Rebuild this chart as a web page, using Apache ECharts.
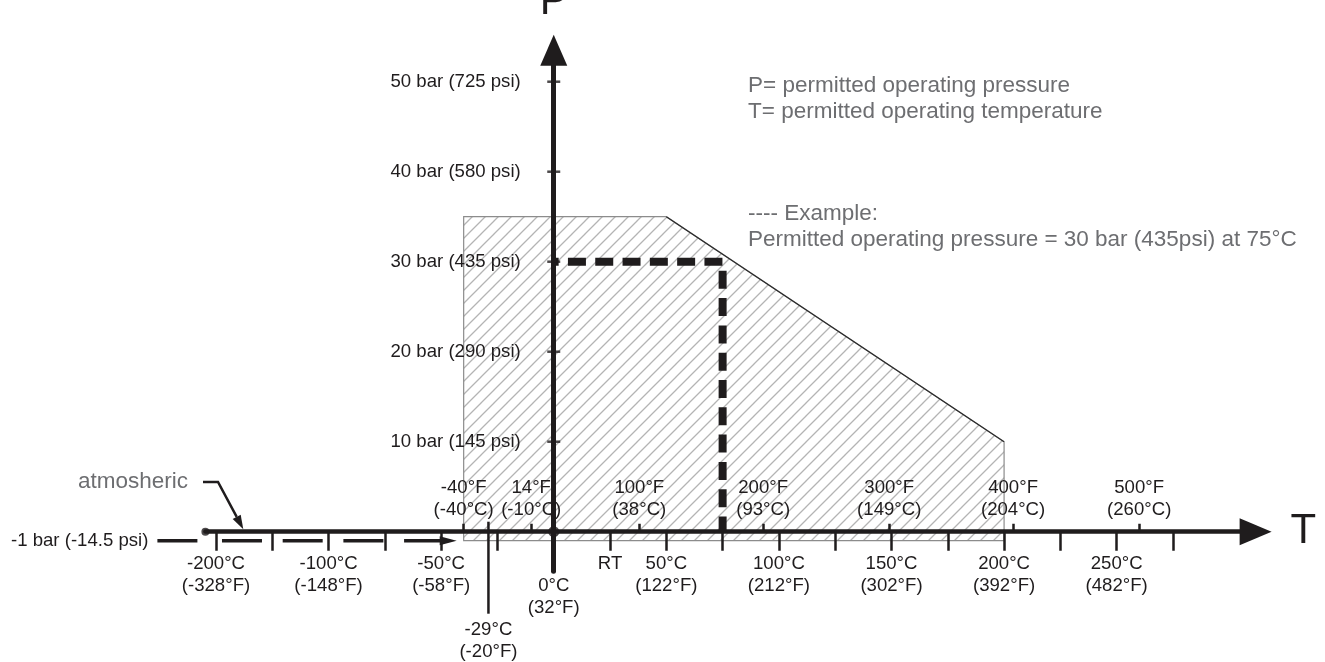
<!DOCTYPE html>
<html><head><meta charset="utf-8">
<script src="https://cdn.jsdelivr.net/npm/echarts@6/dist/echarts.min.js"></script>
<style>html,body{margin:0;padding:0;background:#fff}#c{width:1325px;height:662px}</style>
</head><body><div id="c"></div>
<script>
// ---------------- data ----------------
// permitted operating envelope (temperature °C, pressure bar)
const envelopeT = [-40, -40, 50, 200, 200];
const envelopeP = [-1, 35, 35, 10, -1];
// example: 30 bar at 75 °C
const exampleT = [0, 75, 75];
const exampleP = [30, 30, 0];
// pressure axis
const pressureTicks = [10, 20, 30, 40, 50];
const pressureLabels = ['10 bar (145 psi)', '20 bar (290 psi)', '30 bar (435 psi)', '40 bar (580 psi)', '50 bar (725 psi)'];
const vacuumP = -1;
const vacuumLabel = '-1 bar (-14.5 psi)';
// temperature axis (positions on the drawn scale; left part of the axis is compressed)
const celsiusTickPositions = [-150, -125, -100, -75, -50, -25, 25, 50, 75, 100, 125, 150, 175, 200, 225, 250, 275];
const celsiusLabelPositions = [-150, -100, -50, -29, 0, 25, 50, 100, 150, 200, 250];
const celsiusLabels = ['-200°C\n(-328°F)', '-100°C\n(-148°F)', '-50°C\n(-58°F)', '\n\n\n-29°C\n(-20°F)', '\n0°C\n(32°F)', 'RT', '50°C\n(122°F)', '100°C\n(212°F)', '150°C\n(302°F)', '200°C\n(392°F)', '250°C\n(482°F)'];
const fahrenheitTickPositions = [-40, -10, 38, 93, 149, 204, 260];
const fahrenheitLabels = ['-40°F\n(-40°C)', '14°F\n(-10°C)', '100°F\n(38°C)', '200°F\n(93°C)', '300°F\n(149°C)', '400°F\n(204°C)', '500°F\n(260°C)'];
const minTempMark = -29;
// axis extents
const xMin = -154.7, xMax = 311.7;
const yMin = -4.4, yMax = 53.5;

// ---------------- layout / styling ----------------
const W = 1325, H = 662;
const GL = 205.4, GR = 69.4, GT = 50.2, GB = 90.7;
const pxPerBar = (H - GT - GB) / (yMax - yMin);
const zeroY = H - GB - (0 - yMin) * pxPerBar;               // pixel row of 0 bar
const pxPerDeg = (W - GL - GR) / (xMax - xMin);
const zeroX = GL + (0 - xMin) * pxPerDeg;                    // pixel column of 0 °C

const INK = '#1f1c1d';
const GRAY = '#6d6e71';
const FONT = '"Liberation Sans", Arial, Helvetica, sans-serif';
const FS = 18.6;

function makeHatch() {
  const s = 13;
  const c = document.createElement('canvas');
  c.width = s; c.height = s;
  const g = c.getContext('2d');
  g.strokeStyle = '#b4b4b4';
  g.lineWidth = 1.3;
  g.beginPath();
  for (const k of [0, s, 2 * s]) { g.moveTo(-2, k + 2); g.lineTo(k + 2, -2); }
  g.stroke();
  return c;
}
const hatch = makeHatch();

const chart = echarts.init(document.getElementById('c'), null, { renderer: 'canvas' });

const axisText = { color: INK, fontSize: FS, fontFamily: FONT, lineHeight: 22 };
const hiddenAxis = (gi, min, max) => ({ type: 'value', gridIndex: gi, show: false, min: min, max: max });

const option = {
  animation: false,
  backgroundColor: '#fff',
  grid: [
    // 0: data grid
    { left: GL, right: GR, top: GT, bottom: GB, containLabel: false, outerBoundsMode: 'none' },
    // 1: temperature (°C) axis, bottom edge on 0 bar
    { left: GL, right: GR, top: GT, bottom: H - zeroY, containLabel: false, outerBoundsMode: 'none' },
    // 2: temperature (°F) axis, top edge on 0 bar
    { left: GL, right: GR, top: zeroY, bottom: GB, containLabel: false, outerBoundsMode: 'none' },
    // 3: pressure axis, left edge on 0 °C
    { left: zeroX, right: GR, top: GT, bottom: GB, containLabel: false, outerBoundsMode: 'none' }
  ],
  xAxis: [
    hiddenAxis(0, xMin, xMax),
    {
      type: 'value', gridIndex: 1, min: xMin, max: xMax, position: 'bottom', z: 5,
      axisLine: { show: true, onZero: false, lineStyle: { color: INK, width: 4.5 }, symbol: ['none', 'triangle'], symbolSize: [27, 32] },
      axisTick: { show: true, customValues: celsiusTickPositions, length: 19, lineStyle: { color: INK, width: 2.5 } },
      axisLabel: Object.assign({ customValues: celsiusLabelPositions, margin: 21, formatter: v => celsiusLabels[celsiusLabelPositions.indexOf(v)] || '' }, axisText),
      splitLine: { show: false },
      name: 'T', nameLocation: 'end', nameGap: 35, nameMoveOverlap: false,
      nameTextStyle: { fontSize: 42, color: INK, fontFamily: FONT, align: 'left', verticalAlign: 'middle' }
    },
    {
      type: 'value', gridIndex: 2, min: xMin, max: xMax, position: 'top', z: 5,
      axisLine: { show: false, onZero: false },
      axisTick: { show: true, customValues: fahrenheitTickPositions, length: 8, lineStyle: { color: INK, width: 2.5 } },
      axisLabel: Object.assign({ customValues: fahrenheitTickPositions, margin: 11, formatter: v => fahrenheitLabels[fahrenheitTickPositions.indexOf(v)] || '' }, axisText),
      splitLine: { show: false }
    },
    hiddenAxis(3, 0, 1)
  ],
  yAxis: [
    hiddenAxis(0, yMin, yMax),
    hiddenAxis(1, 0, 1),
    hiddenAxis(2, 0, 1),
    {
      type: 'value', gridIndex: 3, min: yMin, max: yMax, position: 'left', z: 5,
      axisLine: { show: true, onZero: false, lineStyle: { color: INK, width: 5 }, symbol: ['none', 'triangle'], symbolSize: [27, 31] },
      axisTick: { show: false },
      axisLabel: Object.assign({ customValues: pressureTicks, margin: 33, formatter: v => pressureLabels[pressureTicks.indexOf(v)] || '' }, axisText),
      splitLine: { show: false },
      name: 'P', nameLocation: 'end', nameGap: 27, nameMoveOverlap: false,
      nameTextStyle: { fontSize: 42, color: INK, fontFamily: FONT }
    }
  ],
  series: [
    // hatched permitted envelope
    {
      type: 'custom', z: 1, data: [0], silent: true,
      renderItem: (params, api) => {
        const pts = envelopeT.map((t, i) => api.coord([t, envelopeP[i]]));
        return { type: 'polygon', shape: { points: pts }, style: { fill: { image: hatch, repeat: 'repeat' }, stroke: '#8c8c8c', lineWidth: 1.2 } };
      }
    },
    // darker sloped edge of the envelope
    {
      type: 'line', z: 2, silent: true, showSymbol: false, symbol: 'none',
      data: [[envelopeT[2], envelopeP[2]], [envelopeT[3], envelopeP[3]]],
      lineStyle: { color: '#2a2a2a', width: 1.2 }
    },
    // example dashed line
    {
      type: 'line', z: 6, silent: true, showSymbol: false, symbol: 'none',
      data: exampleT.map((t, i) => [t, exampleP[i]]),
      lineStyle: { color: INK, width: 8, type: [18, 9.3], dashOffset: 13.1, cap: 'butt', join: 'miter' }
    },
    // -1 bar reference line with label and arrow
    {
      type: 'custom', z: 7, data: [vacuumP], silent: true, clip: false,
      renderItem: (params, api) => {
        const y = api.coord([0, api.value(0)])[1];
        const x0 = api.coord([xMin, 0])[0];
        const xs = api.coord([celsiusTickPositions[0], 0])[0] + 6;
        const xe = api.coord([envelopeT[0], 0])[0] - 7;
        return {
          type: 'group', children: [
            { type: 'text', style: { x: x0 - 57, y: y, text: vacuumLabel, fill: INK, fontSize: FS, fontFamily: FONT, align: 'right', verticalAlign: 'middle' } },
            { type: 'line', shape: { x1: x0 - 48, y1: y, x2: x0 - 8, y2: y }, style: { stroke: INK, lineWidth: 3.5 } },
            { type: 'line', shape: { x1: xs, y1: y, x2: xe - 16, y2: y }, style: { stroke: INK, lineWidth: 3.5, lineDash: [40, 20.7] } },
            { type: 'polygon', shape: { points: [[xe, y], [xe - 17, y - 4.5], [xe - 17, y + 4.5]] }, style: { fill: INK } }
          ]
        };
      }
    },
    // -29 °C long mark
    {
      type: 'custom', z: 7, data: [minTempMark], silent: true, clip: false,
      renderItem: (params, api) => {
        const p = api.coord([api.value(0), 0]);
        return { type: 'line', shape: { x1: p[0], y1: p[1] - 10, x2: p[0], y2: p[1] + 82 }, style: { stroke: INK, lineWidth: 2.5 } };
      }
    },
    // pressure tick marks crossing the P axis
    {
      type: 'scatter', z: 8, silent: true, symbol: 'rect', symbolSize: [13, 2.5],
      data: pressureTicks.map(v => [0, v]), itemStyle: { color: INK }
    },
    // origin dot and axis start dot
    {
      type: 'scatter', z: 9, silent: true, symbol: 'circle', symbolSize: 11,
      data: [[0, 0]], itemStyle: { color: INK }
    },
    {
      type: 'scatter', z: 9, silent: true, symbol: 'circle', symbolSize: 8, clip: false,
      data: [[xMin, 0]], itemStyle: { color: INK }
    }
  ],
  graphic: [
    { type: 'text', x: 748, y: 86, style: { text: 'P= permitted operating pressure', fill: GRAY, fontSize: 22.5, fontFamily: FONT, verticalAlign: 'middle' } },
    { type: 'text', x: 748, y: 112, style: { text: 'T= permitted operating temperature', fill: GRAY, fontSize: 22.5, fontFamily: FONT, verticalAlign: 'middle' } },
    { type: 'text', x: 748, y: 214, style: { text: '---- Example:', fill: GRAY, fontSize: 22.5, fontFamily: FONT, verticalAlign: 'middle' } },
    { type: 'text', x: 748, y: 240, style: { text: 'Permitted operating pressure = 30 bar (435psi) at 75°C', fill: GRAY, fontSize: 22.5, fontFamily: FONT, verticalAlign: 'middle' } },
    { type: 'text', x: 188, y: 482, style: { text: 'atmosheric', fill: GRAY, fontSize: 22.5, fontFamily: FONT, align: 'right', verticalAlign: 'middle' } },
    { type: 'polyline', shape: { points: [[203, 482], [218, 482], [236.7, 516.9]] }, style: { stroke: INK, lineWidth: 2.5, fill: null } },
    { type: 'polygon', shape: { points: [[243.3, 529.3], [232.7, 519.0], [240.7, 514.8]] }, style: { fill: INK } }
  ]
};
chart.setOption(option);
</script>
</body></html>
